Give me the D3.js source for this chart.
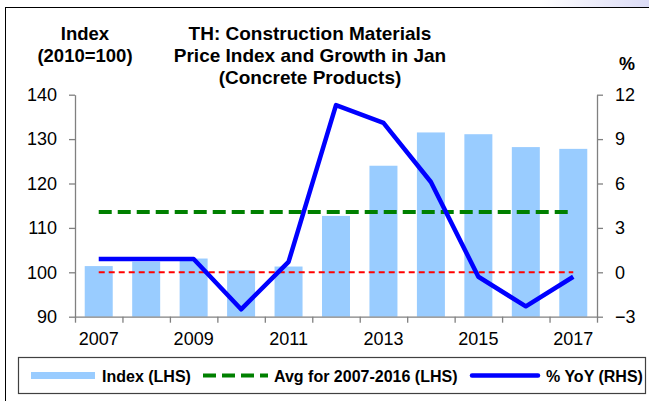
<!DOCTYPE html>
<html>
<head>
<meta charset="utf-8">
<script src="https://cdn.jsdelivr.net/npm/d3@7"></script>
<style>
  body { margin: 0; background: #fff; }
  text { font-family: Arial, "Liberation Sans", sans-serif; }
</style>
</head>
<body>
<div id="chart"></div>
<script>
// data
const years = ["2007", "2008", "2009", "2010", "2011", "2012", "2013", "2014", "2015", "2016", "2017"];
const indexVals = [101.4, 102.4, 103.1, 100.45, 101.3, 112.7, 124.0, 131.5, 131.1, 128.2, 127.8];
const yoyVals = [0.9, 0.9, 0.9, -2.5, 0.7, 11.3, 10.1, 6.1, -0.3, -2.3, -0.3];
const avgVal = 113.6;
const refLine = 100;
const leftTicks = [90, 100, 110, 120, 130, 140];
const rightTicks = [-3, 0, 3, 6, 9, 12];
const labelYears = ["2007", "2009", "2011", "2013", "2015", "2017"];

// constants
const w = 649,
      h = 401,
      x0 = 75,
      x1 = 597,
      yTop = 94.7,
      yBot = 316.7;

let svg = d3.select("#chart")
            .append("svg")
            .attr("width", w)
            .attr("height", h);

// faint corner tint + frame
let defs = svg.append("defs");
let grad = defs.append("linearGradient").attr("id", "tint").attr("x1", 0).attr("x2", 1);
grad.append("stop").attr("offset", 0).attr("stop-color", "#ffffff");
grad.append("stop").attr("offset", 1).attr("stop-color", "#dcdcf6");
svg.append("rect").attr("x", 540).attr("y", 0).attr("width", 109).attr("height", 7).attr("fill", "url(#tint)");
svg.append("rect")
   .attr("x", 5.5).attr("y", 7.5)
   .attr("width", 700).attr("height", 500)
   .attr("fill", "none").attr("stroke", "#000");

// scales
let xBand = d3.scaleBand()
              .domain(years)
              .range([x0, x1])
              .paddingInner(0.41)
              .paddingOuter(0.205);
let xEdge = d3.scaleLinear().domain([0, years.length]).range([x0, x1]);
let yL = d3.scaleLinear().domain([90, 140]).range([yBot, yTop]);
let yR = d3.scaleLinear().domain([-3, 12]).range([yBot, yTop]);
const cx = (d) => xBand(d) + xBand.bandwidth() / 2;

// bars
svg.append("g")
   .selectAll("rect")
   .data(indexVals)
   .enter()
   .append("rect")
   .attr("x", (d, i) => xBand(years[i]))
   .attr("y", (d) => yL(d))
   .attr("width", xBand.bandwidth())
   .attr("height", (d) => yL(90) - yL(d))
   .attr("fill", "#99ccff");

// reference lines
svg.append("line")
   .attr("x1", cx(years[0])).attr("x2", cx(years[years.length - 1]))
   .attr("y1", yL(refLine)).attr("y2", yL(refLine))
   .attr("stroke", "#ff0000").attr("stroke-width", 2)
   .attr("stroke-dasharray", "6,4");
svg.append("line")
   .attr("x1", cx(years[0])).attr("x2", cx(years[years.length - 1]))
   .attr("y1", yL(avgVal)).attr("y2", yL(avgVal))
   .attr("stroke", "#008000").attr("stroke-width", 4)
   .attr("stroke-dasharray", "13,6");

// yoy line
let line = d3.line()
             .x((d, i) => cx(years[i]))
             .y((d) => yR(d));
svg.append("path")
   .datum(yoyVals)
   .attr("d", line)
   .attr("fill", "none")
   .attr("stroke", "#0000ff")
   .attr("stroke-width", 4.5)
   .attr("stroke-linejoin", "round");

// axes
let axisL = svg.append("g")
   .attr("transform", `translate(${x0}, 0)`)
   .call(d3.axisLeft(yL).tickValues(leftTicks).tickSize(6).tickPadding(12).tickSizeOuter(0));
let axisR = svg.append("g")
   .attr("transform", `translate(${x1}, 0)`)
   .call(d3.axisRight(yR).tickValues(rightTicks).tickSize(6).tickPadding(12).tickSizeOuter(0));
let axisB = svg.append("g")
   .attr("transform", `translate(0, ${yBot})`)
   .call(d3.axisBottom(xEdge).tickValues(d3.range(years.length + 1)).tickFormat("").tickSize(6).tickSizeOuter(0));
let axisLab = svg.append("g")
   .attr("transform", `translate(0, ${yBot})`)
   .call(d3.axisBottom(xBand).tickValues(labelYears).tickSize(0).tickPadding(16));
axisLab.select(".domain").remove();

[axisL, axisR, axisB].forEach((g) => {
  g.selectAll(".domain, line").attr("stroke", "#808080").attr("stroke-width", 1.3);
});
[axisL, axisR, axisLab].forEach((g) => {
  g.selectAll("text").attr("font-size", 18).attr("fill", "#000")
   .style("font-family", "Arial, 'Liberation Sans', sans-serif");
});

// titles
const titleLines = ["TH: Construction Materials", "Price Index and Growth in Jan", "(Concrete Products)"];
svg.append("g")
   .selectAll("text")
   .data(titleLines)
   .enter()
   .append("text")
   .attr("x", 310)
   .attr("y", (d, i) => 40 + i * 22)
   .attr("text-anchor", "middle")
   .attr("font-size", 19)
   .attr("font-weight", "bold")
   .text((d) => d);

svg.append("text").attr("x", 85).attr("y", 40).attr("text-anchor", "middle")
   .attr("font-size", 18.5).attr("font-weight", "bold").text("Index");
svg.append("text").attr("x", 85).attr("y", 62).attr("text-anchor", "middle")
   .attr("font-size", 18.5).attr("font-weight", "bold").text("(2010=100)");
svg.append("text").attr("x", 627).attr("y", 70).attr("text-anchor", "middle")
   .attr("font-size", 18).attr("font-weight", "bold").text("%");

// legend
let legend = svg.append("g");
legend.append("rect")
      .attr("x", 18.5).attr("y", 357.5).attr("width", 627).attr("height", 36)
      .attr("fill", "#fff").attr("stroke", "#404040").attr("stroke-width", 1.2);
legend.append("rect")
      .attr("x", 31).attr("y", 372).attr("width", 64).attr("height", 7)
      .attr("fill", "#99ccff");
legend.append("text").attr("x", 102).attr("y", 382)
      .attr("font-size", 16).attr("font-weight", "bold").text("Index (LHS)");
legend.append("line")
      .attr("x1", 203).attr("x2", 268).attr("y1", 375.5).attr("y2", 375.5)
      .attr("stroke", "#008000").attr("stroke-width", 4)
      .attr("stroke-dasharray", "13,6");
legend.append("text").attr("x", 274).attr("y", 382)
      .attr("font-size", 16).attr("font-weight", "bold").text("Avg for 2007-2016 (LHS)");
legend.append("line")
      .attr("x1", 472).attr("x2", 538).attr("y1", 375.5).attr("y2", 375.5)
      .attr("stroke", "#0000ff").attr("stroke-width", 4.5).attr("stroke-linecap", "round");
legend.append("text").attr("x", 546).attr("y", 382)
      .attr("font-size", 16).attr("font-weight", "bold").text("% YoY (RHS)");
</script>
</body>
</html>
